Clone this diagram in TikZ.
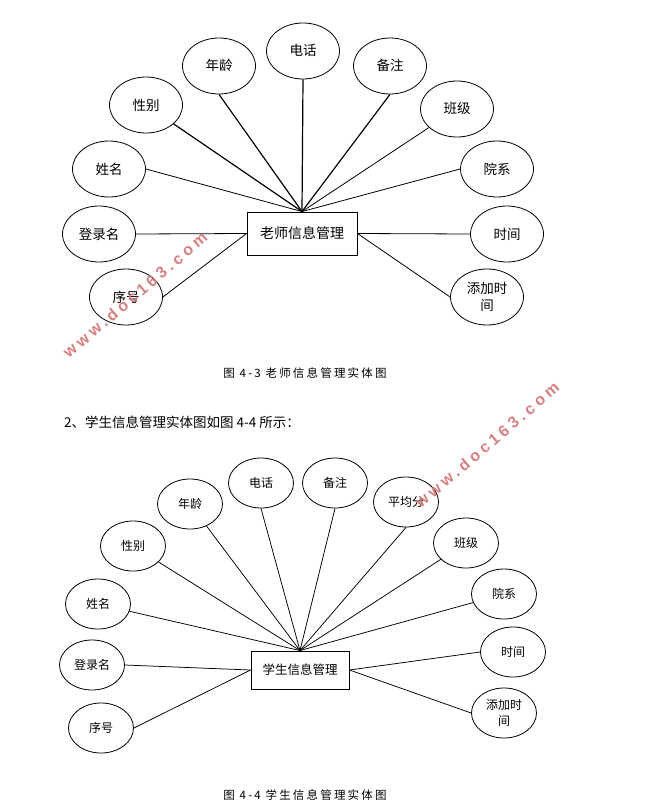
\documentclass[tikz,border=0pt]{standalone}
\usepackage{fontspec}
\setmainfont{Noto Sans CJK SC}
\newfontfamily\capfont[LetterSpace=19]{Noto Sans CJK SC}
\newfontfamily\markfont[LetterSpace=24]{Liberation Sans}
\usepackage{xcolor}
\usetikzlibrary{shapes.geometric,positioning}
\definecolor{markred}{RGB}{214,128,128}
\tikzset{
    attrA/.style={draw,line width=.8pt,ellipse,inner sep=0pt,minimum width=73pt,minimum height=56pt,font=\fontsize{13.5}{15}\selectfont,align=center},
    attrB/.style={draw,line width=.8pt,ellipse,inner sep=0pt,minimum width=65pt,minimum height=50pt,font=\fontsize{12}{14.5}\selectfont,align=center},
    mgrA/.style={draw,line width=.9pt,rectangle,inner sep=0pt,minimum width=110pt,minimum height=43pt,font=\fontsize{14}{16}\selectfont},
    mgrB/.style={draw,line width=.9pt,rectangle,inner sep=0pt,minimum width=98pt,minimum height=38pt,font=\fontsize{12.5}{15}\selectfont},
    linkA/.style={line width=.8pt},
    linkH/.style={line width=1.2pt},
    linkB/.style={line width=.75pt},
    figcap/.style={font=\capfont\fontsize{11.5}{14}\selectfont,inner sep=0pt},
    wmark/.style={font=\markfont\bfseries\fontsize{16}{18}\selectfont,text=markred,rotate=40.5,inner sep=0pt}
}
\begin{document}
\begin{tikzpicture}[x=1pt,y=-1pt]
    \useasboundingbox (0,0) rectangle (646,809);
    % teacher diagram
    \node[mgrA] at (302,233.5)(tmgr){老师信息管理};
    \node[attrA] at (303,51)(tphone){\raisebox{1.5pt}{电话}};
    \node[attrA] at (219,66)(tage){\raisebox{1.5pt}{年龄}};
    \node[attrA] at (146,105)(tsex){性别};
    \node[attrA] at (109,169)(tname){姓名};
    \node[attrA] at (99,234)(tlogin){登录名};
    \node[attrA] at (126,297)(tid){序号};
    \node[attrA] at (390,66)(tnote){\raisebox{1.5pt}{备注}};
    \node[attrA] at (457,109)(tclass){\raisebox{1.5pt}{班级}};
    \node[attrA] at (497,169)(tdept){院系};
    \node[attrA] at (507,234)(ttime){时间};
    \node[attrA] at (487,297)(tadd){添加时\\[2pt]间};
    \draw[linkH](tphone.south)--(tmgr.north);
    \draw[linkH](tage.south)--(tmgr.north);
    \draw[linkH](tsex)--(tmgr.north);
    \draw[linkA](tname.east)--(tmgr.north);
    \draw[linkA](tlogin.east)--(tmgr.west);
    \draw[linkA](tid.east)--(tmgr.west);
    \draw[linkH](tnote.south)--(tmgr.north);
    \draw[linkA](tclass)--(tmgr.north);
    \draw[linkA](tdept.west)--(tmgr.north);
    \draw[linkA](ttime.west)--(tmgr.east);
    \draw[linkA](tadd.west)--(tmgr.east);
    \node[figcap] at (305,373)(tcap){图 4-3 老师信息管理实体图};
    \node[anchor=west,inner sep=0pt,font=\fontsize{13.5}{16}\selectfont] at (64,422)(intro){2、学生信息管理实体图如图 4-4 所示：};
    % student diagram
    \node[mgrB] at (300,670)(smgr){学生信息管理};
    \node[attrB] at (261,483)(sphone){\raisebox{1pt}{电话}};
    \node[attrB] at (335,483)(snote){\raisebox{1pt}{备注}};
    \node[attrB] at (190,504)(sage){年龄};
    \node[attrB] at (133,546)(ssex){性别};
    \node[attrB] at (98,604)(sname){姓名};
    \node[attrB] at (92,665)(slogin){\raisebox{1pt}{登录名}};
    \node[attrB] at (101,728)(sid){序号};
    \node[attrB] at (406,502)(savg){平均分};
    \node[attrB] at (466,543)(sclass){班级};
    \node[attrB] at (504,594)(sdept){院系};
    \node[attrB] at (513,652)(stime){时间};
    \node[attrB] at (504,713)(sadd){添加时\\[2pt]间};
    \draw[linkB](sphone.south)--(smgr.north);
    \draw[linkB](snote.south)--(smgr.north);
    \draw[linkB](sage)--(smgr.north);
    \draw[linkB](ssex)--(smgr.north);
    \draw[linkB](sname)--(smgr.north);
    \draw[linkB](slogin.east)--(smgr.west);
    \draw[linkB](sid.east)--(smgr.west);
    \draw[linkB](savg.south)--(smgr.north);
    \draw[linkB](sclass)--(smgr.north);
    \draw[linkB](sdept)--(smgr.north);
    \draw[linkB](stime.west)--(smgr.east);
    \draw[linkB](sadd.west)--(smgr.east);
    \node[figcap] at (305,795)(scap){图 4-4 学生信息管理实体图};
    % watermarks
    \node[wmark] at (135,295)(wma){www.doc163.com};
    \node[wmark] at (487,445)(wmb){www.doc163.com};
\end{tikzpicture}
\end{document}
